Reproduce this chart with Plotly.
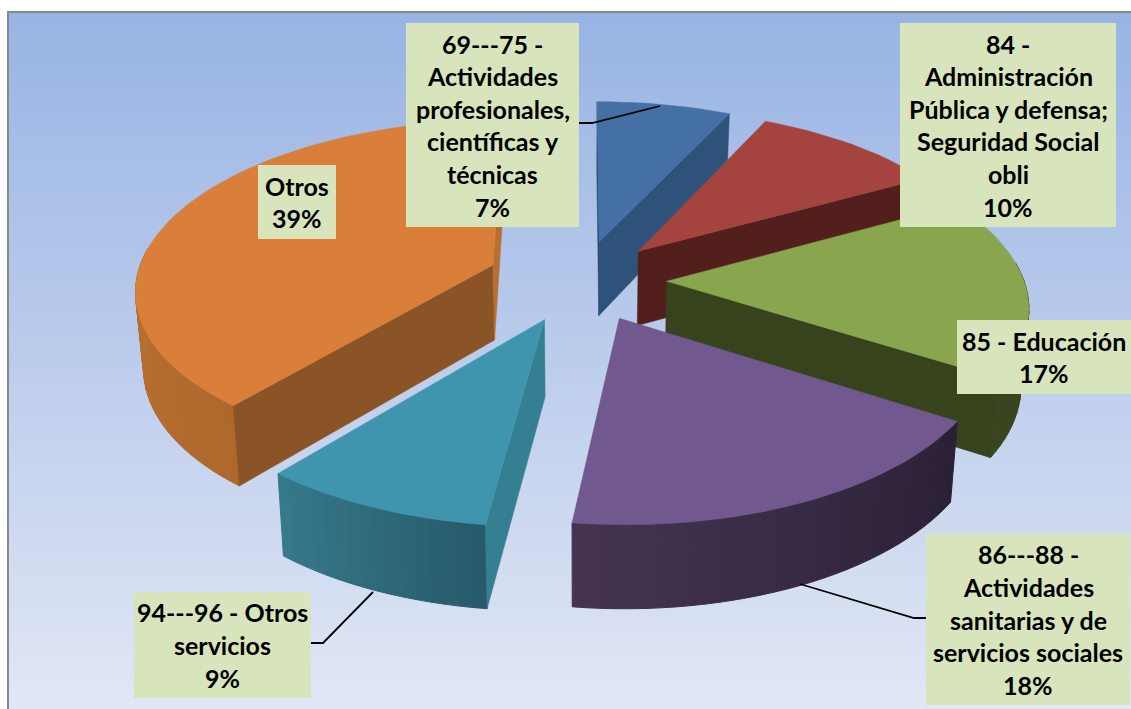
import math
import plotly.graph_objects as go

categories = ["69---75 - Actividades profesionales, científicas y técnicas",
              "84 - Administración Pública y defensa; Seguridad Social obli",
              "85 - Educación",
              "86---88 - Actividades sanitarias y de servicios sociales",
              "94---96 - Otros servicios",
              "Otros"]
values = [7, 10, 17, 18, 9, 39]
explode = [0.24, 0.24, 0.24, 0.245, 0.25, 0.265]
label_lines = [
    ["69---75 -", "Actividades", "profesionales,", "científicas y", "técnicas", "7%"],
    ["84 -", "Administración", "Pública y defensa;", "Seguridad Social", "obli", "10%"],
    ["85 - Educación", "17%"],
    ["86---88 -", "Actividades", "sanitarias y de", "servicios sociales", "18%"],
    ["94---96 - Otros", "servicios", "9%"],
    ["Otros", "39%"],
]
label_boxes = [(406, 579, 23, 227), (900, 1116, 23, 227), (957, 1131, 320, 394),
               (926, 1130, 534, 705), (134, 311, 592, 698), (258, 336, 165, 239)]
leaders = [[(660, 106), (592, 123), (579, 123)],
           [(800, 584), (914, 618), (926, 618)],
           [(373, 592), (323, 643), (311, 643)]]
top_colors = ["#4570a5", "#a5443f", "#89a54e", "#71588f", "#4095ae", "#d97f3a"]
start_cut = ["#2a4a6e", None, None, None, "#357f92", "#8a5427"]
end_cut = ["#2e5279", "#521f1c", "#37431d", None, None, "#b86f2f"]
outer_from = [None, None, "#3a4520", "#2a2036", "#265a6b", "#ae682c"]
outer_to = [None, None, "#3a4520", "#443452", "#377a8c", "#c98035"]
draw_order = [5, 0, 1, 2, 3, 4]

CX, CY, A, B, K, START = 581, 280, 357, 168, 0.132, 0.0


def project(X, Y, low=False):
    s = 1 / (1 + K * Y)
    x = CX + A * X * s
    y = CY - B * Y * s
    if low:
        x = CX + (x - CX) * 0.982
        y = y + 75.5 - 7 * Y
    return x, y


def hex_mix(c1, c2, t):
    a = [int(c1[i:i + 2], 16) for i in (1, 3, 5)]
    b = [int(c2[i:i + 2], 16) for i in (1, 3, 5)]
    return "rgb(%d,%d,%d)" % tuple(round(p + (q - p) * t) for p, q in zip(a, b))


def ground(apex, deg):
    r = math.radians(deg)
    return apex[0] + math.sin(r), apex[1] + math.cos(r)


fig = go.Figure()
bands = 120
edges_y = [12 + (709 - 12) * j / bands for j in range(bands + 1)]
fig.add_trace(go.Heatmap(x=[8, 1131], y=edges_y, z=[[j / (bands - 1)] for j in range(bands)], showscale=False,
                         zmin=0, zmax=1, colorscale=[[0, "#98b4e4"], [0.5, "#bccdec"], [1, "#e1e7f5"]],
                         hoverinfo="skip"))


def poly(pts, color, width=0.5):
    xs = [p[0] for p in pts] + [pts[0][0]]
    ys = [p[1] for p in pts] + [pts[0][1]]
    fig.add_trace(go.Scatter(x=xs, y=ys, mode="lines", fill="toself", fillcolor=color,
                             line=dict(color=color, width=width), hoverinfo="skip", showlegend=False))


def side(apex, t1, t2, color_a, color_b):
    n = max(2, int(abs(t2 - t1) / 2))
    for j in range(n):
        u, v = t1 + (t2 - t1) * j / n, t1 + (t2 - t1) * (j + 1) / n
        if math.cos(math.radians(u)) > 0.1 and math.cos(math.radians(v)) > 0.1:
            continue
        gu, gv = ground(apex, u), ground(apex, v)
        col = hex_mix(color_a, color_b, (j + 0.5) / n)
        poly([project(*gu), project(*gv), project(*gv, True), project(*gu, True)], col, 1.0)


edges = [START]
for v in values:
    edges.append(edges[-1] + v * 3.6)

for i in draw_order:
    t1, t2 = edges[i], edges[i + 1]
    mid = math.radians((t1 + t2) / 2)
    apex = (explode[i] * math.sin(mid), explode[i] * math.cos(mid))
    if outer_from[i]:
        side(apex, t1, t2, outer_from[i], outer_to[i])
    for t, col in ((t1, start_cut[i]), (t2, end_cut[i])):
        if col:
            g = ground(apex, t)
            poly([project(*apex), project(*g), project(*g, True), project(*apex, True)], col)
    n = max(2, int((t2 - t1) / 2))
    arc = [project(*ground(apex, t1 + (t2 - t1) * j / n)) for j in range(n + 1)]
    poly([project(*apex)] + arc, top_colors[i])

for path in leaders:
    fig.add_trace(go.Scatter(x=[p[0] for p in path], y=[p[1] for p in path], mode="lines",
                             line=dict(color="black", width=1.8), hoverinfo="skip", showlegend=False))

shapes = [dict(type="rect", xref="x", yref="y", x0=l, x1=r, y0=t, y1=b, fillcolor="#d8e4bc",
               line=dict(width=0), layer="above") for l, r, t, b in label_boxes]
shapes += [dict(type="line", xref="x", yref="y", x0=7, x1=1131, y0=12, y1=12, line=dict(color="#8a8a8a", width=2)),
           dict(type="line", xref="x", yref="y", x0=8, x1=8, y0=12, y1=709, line=dict(color="#8a8a8a", width=2))]

annotations = []
for lines, (l, r, t, b) in zip(label_lines, label_boxes):
    for j, txt in enumerate(lines):
        annotations.append(dict(x=(l + r) / 2, y=(t + b) / 2 + (j - (len(lines) - 1) / 2) * 32.6, xref="x", yref="y",
                                text=txt, showarrow=False, xanchor="center", yanchor="middle",
                                font=dict(family="Lato", size=25, color="black", weight="bold")))

fig.update_layout(width=1131, height=709, margin=dict(l=0, r=0, t=0, b=0), paper_bgcolor="white",
                  plot_bgcolor="white", showlegend=False, shapes=shapes, annotations=annotations,
                  xaxis=dict(range=[0, 1131], visible=False, fixedrange=True),
                  yaxis=dict(range=[709, 0], visible=False, fixedrange=True))
fig.write_html("out.html", config=dict(displayModeBar=False), default_width="1131px", default_height="709px",
               include_plotlyjs=True,
               post_script="document.body.style.margin='0';document.documentElement.style.overflow='hidden';")
